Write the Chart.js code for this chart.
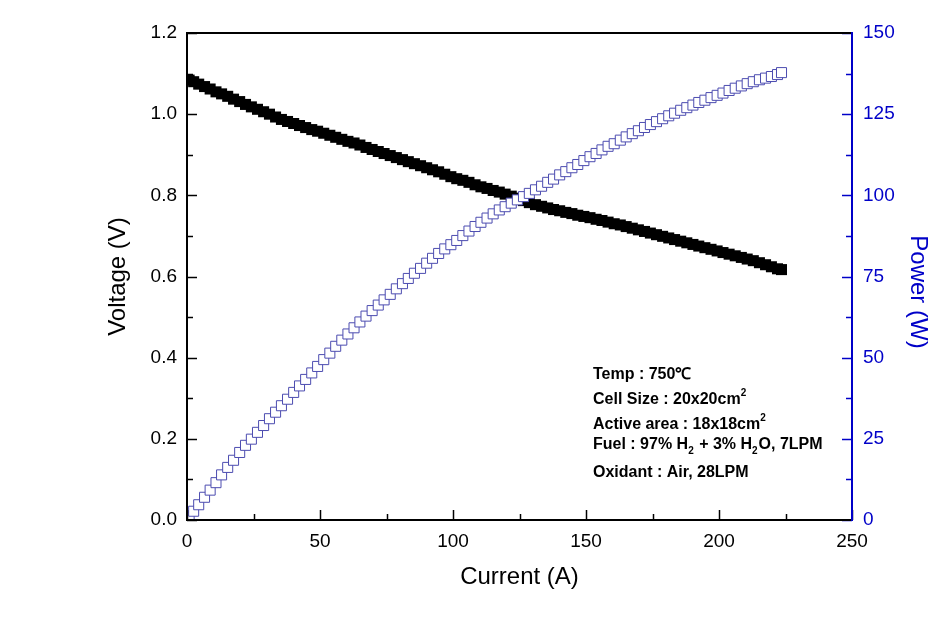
<!DOCTYPE html>
<html>
<head>
<meta charset="utf-8">
<script src="https://cdn.jsdelivr.net/npm/chart.js@4/dist/chart.umd.min.js"></script>
<style>
  html, body { margin: 0; padding: 0; background: #fff; }
  #wrap { width: 936px; height: 618px; }
</style>
</head>
<body>
<div id="wrap"><canvas id="chart" width="936" height="618"></canvas></div>
<script>
// values
const current = [
  0.8, 2.5, 4.4, 6.6, 8.7, 10.9, 13.0, 15.3, 17.5, 19.8,
  22.0, 24.2, 26.5, 28.8, 31.0, 33.3, 35.5, 37.8, 40.1, 42.3,
  44.6, 46.9, 49.1, 51.4, 53.7, 55.9, 58.2, 60.5, 62.8, 65.0,
  67.3, 69.6, 71.9, 74.1, 76.4, 78.7, 81.0, 83.2, 85.5, 87.8,
  90.1, 92.3, 94.6, 96.9, 99.2, 101.4, 103.7, 106.0, 108.3, 110.5,
  112.8, 115.1, 117.4, 119.6, 121.9, 124.2, 126.5, 128.7, 131.0, 133.3,
  135.6, 137.8, 140.1, 142.4, 144.7, 146.9, 149.2, 151.5, 153.8, 156.0,
  158.3, 160.6, 162.9, 165.1, 167.4, 169.7, 172.0, 174.2, 176.5, 178.8,
  181.1, 183.3, 185.6, 187.9, 190.2, 192.4, 194.7, 197.0, 199.3, 201.5,
  203.8, 206.1, 208.4, 210.6, 212.9, 215.2, 217.5, 219.7, 222.0, 223.5
];
const voltage = [
  1.084, 1.080, 1.074, 1.068, 1.062, 1.055, 1.050, 1.044, 1.037, 1.031,
  1.024, 1.018, 1.012, 1.006, 1.000, 0.993, 0.987, 0.982, 0.977, 0.972,
  0.967, 0.962, 0.958, 0.953, 0.948, 0.943, 0.938, 0.933, 0.929, 0.924,
  0.918, 0.913, 0.908, 0.903, 0.898, 0.893, 0.888, 0.883, 0.878, 0.873,
  0.868, 0.863, 0.858, 0.852, 0.846, 0.841, 0.837, 0.832, 0.826, 0.821,
  0.817, 0.812, 0.808, 0.803, 0.798, 0.793, 0.787, 0.782, 0.777, 0.773,
  0.769, 0.765, 0.762, 0.758, 0.755, 0.751, 0.748, 0.745, 0.741, 0.738,
  0.734, 0.730, 0.727, 0.723, 0.719, 0.715, 0.711, 0.707, 0.703, 0.699,
  0.695, 0.691, 0.687, 0.683, 0.679, 0.675, 0.671, 0.667, 0.663, 0.659,
  0.655, 0.651, 0.647, 0.643, 0.639, 0.634, 0.629, 0.624, 0.619, 0.617
];
const power = [
  0.9, 2.7, 4.7, 7.0, 9.2, 11.5, 13.9, 16.2, 18.4, 20.8,
  23.0, 24.9, 27.0, 29.1, 31.2, 33.2, 35.2, 37.2, 39.3, 41.3,
  43.3, 45.3, 47.3, 49.4, 51.4, 53.5, 55.4, 57.3, 59.2, 61.0,
  62.8, 64.5, 66.2, 67.8, 69.5, 71.2, 72.8, 74.4, 76.0, 77.5,
  79.1, 80.6, 82.1, 83.5, 84.8, 86.1, 87.6, 89.0, 90.4, 91.7,
  93.0, 94.3, 95.5, 96.5, 97.6, 98.6, 99.6, 100.6, 101.7, 102.8,
  104.0, 105.0, 106.3, 107.3, 108.5, 109.5, 110.7, 111.9, 112.9, 114.0,
  115.1, 115.9, 117.0, 118.0, 119.0, 119.9, 120.9, 121.8, 122.7, 123.6,
  124.5, 125.3, 126.2, 127.0, 127.8, 128.6, 129.3, 130.1, 130.8, 131.5,
  132.3, 133.0, 133.7, 134.4, 135.0, 135.6, 136.1, 136.6, 137.2, 137.8
];

const xTicks = [0, 50, 100, 150, 200, 250];
const voltTicks = [0, 0.2, 0.4, 0.6, 0.8, 1.0, 1.2];
const powerTicks = [0, 25, 50, 75, 100, 125, 150];

const notes = [
  [["Temp : 750", 0], ["\u2103", 0]],
  [["Cell Size : 20x20cm", 0], ["2", -1]],
  [["Active area : 18x18cm", 0], ["2", -1]],
  [["Fuel : 97% H", 0], ["2", 1], [" + 3% H", 0], ["2", 1], ["O, 7LPM", 0]],
  [["Oxidant : Air, 28LPM", 0]]
];
const noteBaselines = [379, 404, 429, 449, 477];

const BLUE = "#0000c8";
const FONT = "'Liberation Sans', Arial, sans-serif";

function setTicks(list) {
  return function (axis) {
    axis.ticks = list.map(v => ({ value: v }));
  };
}

// frame + inward tick marks + text box
const framePlugin = {
  id: "framePlugin",
  afterDraw(chart) {
    const { ctx, chartArea: a, scales } = chart;
    ctx.save();
    ctx.lineCap = "butt";

    // inward ticks
    const drawTicks = (scale, list, color, dir) => {
      ctx.strokeStyle = color;
      ctx.lineWidth = 1.5;
      for (let i = 0; i < list.length; i++) {
        const vals = [[list[i], 10]];
        if (i < list.length - 1) vals.push([(list[i] + list[i + 1]) / 2, 6]);
        vals.forEach(([v, len]) => {
          const p = Math.round(scale.getPixelForValue(v)) + 0.5;
          ctx.beginPath();
          if (dir === "up") { ctx.moveTo(p, a.bottom); ctx.lineTo(p, a.bottom - len); }
          else if (dir === "right") { ctx.moveTo(a.left, p); ctx.lineTo(a.left + len, p); }
          else { ctx.moveTo(a.right, p); ctx.lineTo(a.right - len, p); }
          ctx.stroke();
        });
      }
    };
    drawTicks(scales.x, xTicks, "#000", "up");
    drawTicks(scales.y, voltTicks, "#000", "right");
    drawTicks(scales.y1, powerTicks, BLUE, "left");

    // frame
    ctx.lineWidth = 2;
    ctx.strokeStyle = "#000";
    ctx.beginPath();
    ctx.moveTo(a.right, a.top); ctx.lineTo(a.left, a.top);
    ctx.lineTo(a.left, a.bottom); ctx.lineTo(a.right, a.bottom);
    ctx.stroke();
    ctx.strokeStyle = BLUE;
    ctx.beginPath();
    ctx.moveTo(a.right, a.top - 1); ctx.lineTo(a.right, a.bottom + 1);
    ctx.stroke();

    // right axis title, sits a bit below the middle in the original
    ctx.save();
    ctx.translate(918, 292);
    ctx.rotate(Math.PI / 2);
    ctx.font = "24px " + FONT;
    ctx.fillStyle = BLUE;
    ctx.textAlign = "center";
    ctx.textBaseline = "middle";
    ctx.fillText("Power (W)", 0, 0);
    ctx.restore();

    // notes
    ctx.fillStyle = "#000";
    ctx.textBaseline = "alphabetic";
    notes.forEach((line, i) => {
      let x = 593;
      line.forEach(([txt, shift]) => {
        const small = shift !== 0;
        ctx.font = "bold " + (small ? 10 : 16) + "px " + FONT;
        const y = noteBaselines[i] + (shift < 0 ? -8 : shift > 0 ? 5 : 0);
        ctx.fillText(txt, x, y);
        x += ctx.measureText(txt).width + (small ? 1 : 0);
      });
    });
    ctx.restore();
  }
};

const ctx = document.getElementById("chart").getContext("2d");
new Chart(ctx, {
  type: "scatter",
  data: {
    datasets: [
      {
        label: "Voltage",
        data: current.map((c, i) => ({ x: c, y: voltage[i] })),
        yAxisID: "y",
        order: 1,
        pointStyle: "rect",
        pointRadius: 7.8,
        backgroundColor: "#000",
        borderColor: "#000",
        borderWidth: 0
      },
      {
        label: "Power",
        data: current.map((c, i) => ({ x: c, y: power[i] })),
        yAxisID: "y1",
        order: 0,
        pointStyle: "rect",
        pointRadius: 7.1,
        backgroundColor: "#fff",
        borderColor: "#4c4cb0",
        borderWidth: 1
      }
    ]
  },
  options: {
    responsive: false,
    animation: false,
    events: [],
    layout: { padding: { top: 33, left: 0, right: 0, bottom: 0 } },
    plugins: { legend: { display: false }, tooltip: { enabled: false } },
    scales: {
      x: {
        type: "linear",
        position: "bottom",
        min: 0, max: 250,
        afterBuildTicks: setTicks(xTicks),
        afterFit: s => { s.height = 98; },
        grid: { display: false, drawTicks: false },
        border: { display: false },
        ticks: { color: "#000", padding: 10, font: { family: FONT, size: 19 } },
        title: {
          display: true, text: "Current (A)", color: "#000",
          font: { family: FONT, size: 24 }, padding: { top: 0, bottom: 26 }
        }
      },
      y: {
        type: "linear",
        position: "left",
        min: 0, max: 1.2,
        afterBuildTicks: setTicks(voltTicks),
        afterFit: s => { s.width = 187; },
        grid: { display: false, drawTicks: false },
        border: { display: false },
        ticks: {
          color: "#000", padding: 10, font: { family: FONT, size: 19 },
          callback: v => Number(v).toFixed(1)
        },
        title: {
          display: true, text: "Voltage (V)", color: "#000",
          font: { family: FONT, size: 24 }, padding: { top: 104, bottom: 0 }
        }
      },
      y1: {
        type: "linear",
        position: "right",
        min: 0, max: 150,
        afterBuildTicks: setTicks(powerTicks),
        afterFit: s => { s.width = 84; },
        grid: { display: false, drawTicks: false },
        border: { display: false },
        ticks: { color: BLUE, padding: 11, font: { family: FONT, size: 19 } },
        title: { display: false }
      }
    }
  },
  plugins: [framePlugin]
});
</script>
</body>
</html>
